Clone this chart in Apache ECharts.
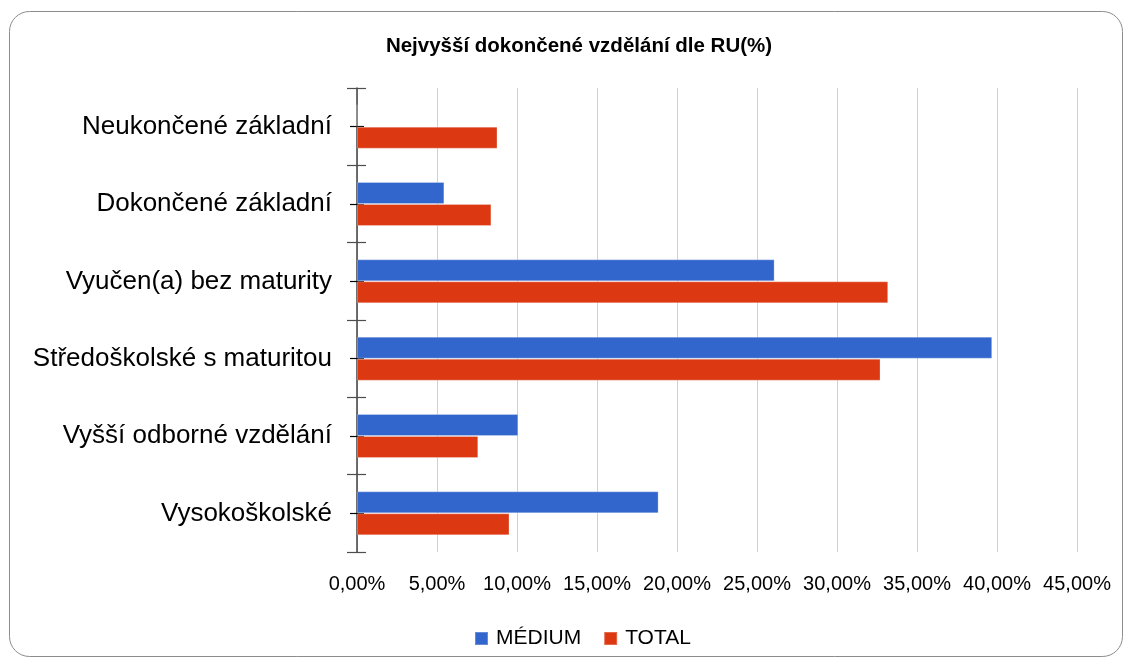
<!DOCTYPE html>
<html>
<head>
<meta charset="utf-8">
<script src="https://cdn.jsdelivr.net/npm/echarts@6/dist/echarts.min.js"></script>
<style>
html,body{margin:0;padding:0;background:#fff;}
#chart{width:1133px;height:664px;}
</style>
</head>
<body>
<div id="chart"></div>
<script>
const titleText = 'Nejvyšší dokončené vzdělání dle RU(%)';
const categories = [
  'Neukončené základní',
  'Dokončené základní',
  'Vyučen(a) bez maturity',
  'Středoškolské s maturitou',
  'Vyšší odborné vzdělání',
  'Vysokoškolské'
];
const seriesNames = ['MÉDIUM', 'TOTAL'];
const mediumValues = [0, 5.46, 26.1, 39.7, 10.08, 18.85];
const totalValues = [8.78, 8.4, 33.2, 32.72, 7.58, 9.53];
const xTicks = { min: 0, max: 45, interval: 5 };

const FONT = 'Liberation Sans';
const chart = echarts.init(document.getElementById('chart'));

function tickAxis(inside, len, align, color) {
  return {
    type: 'category', data: categories, inverse: true, position: 'left',
    axisLine: { show: false },
    axisLabel: { show: false },
    splitLine: { show: false },
    axisTick: { show: true, inside: inside, length: len, alignWithLabel: align, lineStyle: { color: color, width: 1.2 } }
  };
}

chart.setOption({
  animation: false,
  backgroundColor: '#ffffff',
  textStyle: { fontFamily: FONT },
  title: {
    text: titleText,
    left: 574, top: 31, textAlign: 'center',
    textStyle: { fontFamily: FONT, fontWeight: 'bold', fontSize: 20.5, color: '#000' }
  },
  graphic: [{
    type: 'rect', silent: true, z: -1,
    shape: { x: 9.5, y: 11.5, width: 1113, height: 645, r: 20 },
    style: { fill: 'none', stroke: '#8c8c8c', lineWidth: 1 }
  }],
  legend: {
    left: 469, top: 623,
    icon: 'rect', itemWidth: 13, itemHeight: 13, itemGap: 22,
    textStyle: { fontFamily: FONT, fontSize: 21, color: '#000', padding: [0, 0, 0, 3] },
    data: seriesNames
  },
  grid: { left: 357, top: 88, width: 720, height: 464, containLabel: false },
  xAxis: {
    type: 'value', min: xTicks.min, max: xTicks.max, interval: xTicks.interval,
    axisLine: { show: false }, axisTick: { show: false },
    splitLine: { show: true, lineStyle: { color: '#d0d0d0', width: 1 } },
    axisLabel: {
      margin: 22, fontSize: 20, color: '#000', fontFamily: FONT,
      formatter: v => v.toFixed(2).replace('.', ',') + '%'
    }
  },
  yAxis: [
    {
      type: 'category', data: categories, inverse: true, position: 'left',
      axisLine: { show: true, lineStyle: { color: '#404040', width: 1.5 } },
      axisTick: { show: true, length: 10, lineStyle: { color: '#4d4d4d', width: 1.2 } },
      axisLabel: { margin: 25, fontSize: 26, color: '#000', fontFamily: FONT },
      splitLine: { show: false }
    },
    tickAxis(true, 9, false, '#4d4d4d'),
    tickAxis(false, 7, true, '#000'),
    tickAxis(true, 7, true, '#000')
  ],
  series: [
    {
      name: seriesNames[0], type: 'bar', yAxisIndex: 0, data: mediumValues,
      barWidth: 22, barGap: '0%',
      itemStyle: { color: '#3366cc', borderColor: 'rgba(255,255,255,0.25)', borderWidth: 1 }
    },
    {
      name: seriesNames[1], type: 'bar', yAxisIndex: 0, data: totalValues,
      barWidth: 22, barGap: '0%',
      itemStyle: { color: '#dc3912', borderColor: 'rgba(255,255,255,0.25)', borderWidth: 1 }
    }
  ]
});
</script>
</body>
</html>
